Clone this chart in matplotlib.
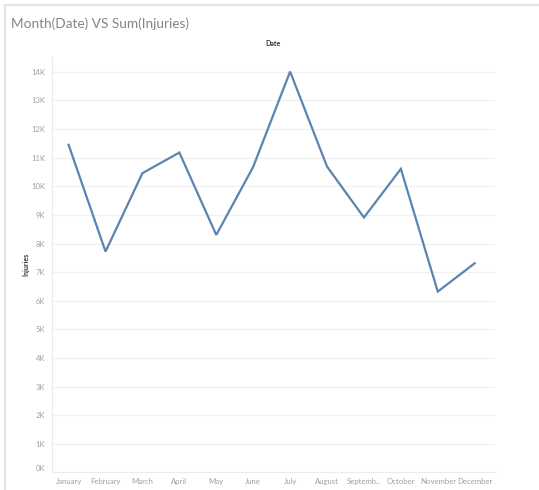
import matplotlib
matplotlib.use("Agg")
import matplotlib.pyplot as plt
from matplotlib.lines import Line2D
from matplotlib.ticker import FuncFormatter

months = ["January", "February", "March", "April", "May", "June", "July",
          "August", "Septemb..", "October", "November", "December"]
injuries = [11450, 7720, 10460, 11180, 8300, 10680, 14010,
            10690, 8910, 10610, 6320, 7310]
y_ticks = list(range(0, 15000, 1000))

plt.rcParams["font.family"] = ["Lato", "DejaVu Sans"]

W, H = 539, 490
fig = plt.figure(figsize=(W / 100, H / 100), dpi=100)

# outer worksheet frame (top + left grey lines)
fig.add_artist(Line2D([5 / W, 1], [1 - 5 / H, 1 - 5 / H], color="#e3e3e3", lw=1.5))
fig.add_artist(Line2D([5 / W, 5 / W], [0, 1 - 5 / H], color="#e3e3e3", lw=1.5))

fig.text(11 / W, 1 - 24 / H, "Month(Date) VS Sum(Injuries)", fontsize=9.8,
         color="#858585", va="center", ha="left")

left, right, top, bottom = 52, 495, 57, 472.4
ax = fig.add_axes([left / W, 1 - bottom / H, (right - left) / W, (bottom - top) / H])

x = list(range(len(months)))
ax.plot(x, injuries, color="#5b84b1", lw=1.6, solid_joinstyle="miter")

ax.set_xlim(-0.45, 11.55)
ax.set_ylim(0, 14520)
ax.set_yticks(y_ticks)
ax.yaxis.set_major_formatter(FuncFormatter(lambda v, p: f"{int(v / 1000)}K"))
ax.set_xticks(x)
ax.set_xticklabels(months)
ax.grid(axis="y", color="#f0f0f0", lw=0.8)
ax.set_axisbelow(True)
for s in ["top", "right"]:
    ax.spines[s].set_visible(False)
ax.spines["left"].set_color("#ececec")
ax.spines["bottom"].set_color("#ececec")
ax.tick_params(axis="y", length=0, labelsize=5.5, labelcolor="#a0a0a0", pad=5)
ax.tick_params(axis="x", length=0, labelsize=5.6, labelcolor="#a0a0a0", pad=4)
# bottom label pushed up like Tableau does
for t in ax.get_yticklabels():
    if t.get_text() == "0K":
        t.set_va("bottom")

ax.set_ylabel("Injuries", fontsize=5, color="#333333", fontweight="bold", labelpad=1)
fig.text((left + right) / 2 / W, 1 - 44 / H, "Date", fontsize=5, color="#333333",
         fontweight="bold", ha="center", va="center")

fig.savefig("out.png", dpi=100)
